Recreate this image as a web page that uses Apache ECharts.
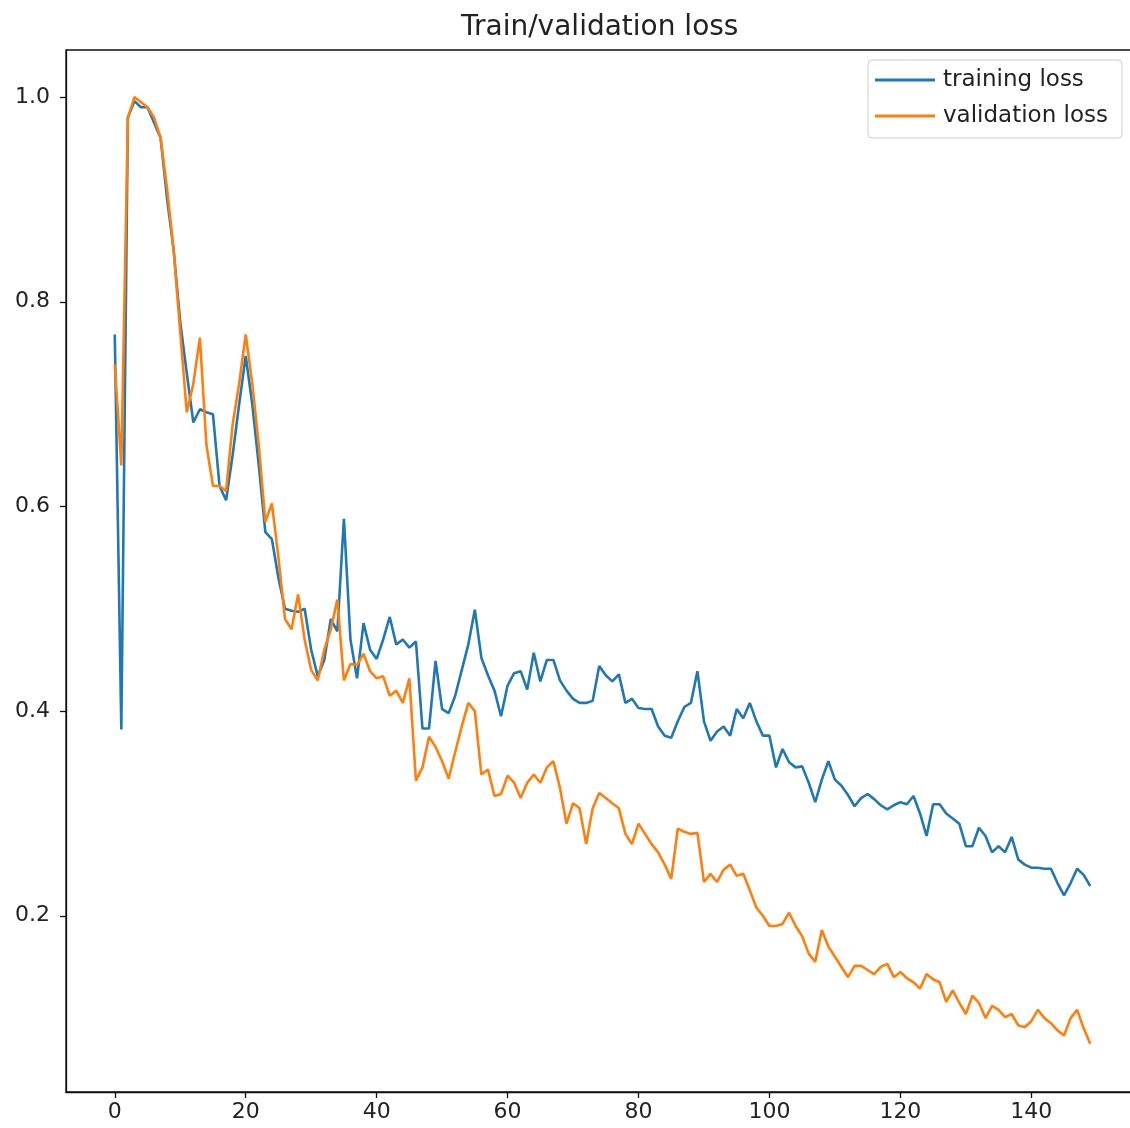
<!DOCTYPE html>
<html>
<head>
<meta charset="utf-8">
<script src="https://cdn.jsdelivr.net/npm/echarts@6/dist/echarts.min.js"></script>
<style>
  html, body { margin: 0; padding: 0; background: #fff; }
  #chart { width: 1130px; height: 1128px; }
</style>
</head>
<body>
<div id="chart"></div>
<script>
// values, one per epoch (0..149)
var trainingLoss = [
  0.768, 0.382, 0.98, 0.996, 0.99, 0.99, 0.975, 0.96, 0.90, 0.85,
  0.78, 0.73, 0.682, 0.695, 0.692, 0.69, 0.62, 0.606, 0.65, 0.70,
  0.747, 0.70, 0.64, 0.575, 0.568, 0.53, 0.50, 0.498, 0.497, 0.50,
  0.46, 0.434, 0.45, 0.49, 0.478, 0.588, 0.47, 0.432, 0.486, 0.46,
  0.451, 0.47, 0.492, 0.465, 0.47, 0.462, 0.468, 0.383, 0.383, 0.449,
  0.402, 0.398, 0.415, 0.44, 0.465, 0.499, 0.452, 0.435, 0.42, 0.395,
  0.425, 0.437, 0.439, 0.421, 0.457, 0.429, 0.45, 0.45, 0.43, 0.42,
  0.412, 0.408, 0.408, 0.41, 0.444, 0.435, 0.429, 0.436, 0.408, 0.412,
  0.403, 0.402, 0.402, 0.385, 0.376, 0.374, 0.39, 0.404, 0.408, 0.439,
  0.39, 0.371, 0.38, 0.385, 0.376, 0.402, 0.393, 0.408, 0.39, 0.376,
  0.376, 0.345, 0.363, 0.35, 0.345, 0.346, 0.33, 0.311, 0.333, 0.351,
  0.333, 0.327, 0.318, 0.307, 0.315, 0.319, 0.314, 0.308, 0.304, 0.308,
  0.311, 0.309, 0.317, 0.30, 0.278, 0.309, 0.309, 0.30, 0.295, 0.29,
  0.268, 0.268, 0.286, 0.278, 0.262, 0.268, 0.262, 0.277, 0.255, 0.25,
  0.247, 0.247, 0.246, 0.246, 0.232, 0.22, 0.232, 0.246, 0.24, 0.229
];
var validationLoss = [
  0.739, 0.64, 0.98, 1.0, 0.995, 0.99, 0.98, 0.96, 0.91, 0.85,
  0.77, 0.692, 0.72, 0.765, 0.66, 0.62, 0.62, 0.615, 0.68, 0.72,
  0.768, 0.72, 0.66, 0.585, 0.603, 0.55, 0.49, 0.48, 0.514, 0.47,
  0.44, 0.43, 0.46, 0.48, 0.509, 0.43, 0.446, 0.445, 0.456, 0.439,
  0.432, 0.434, 0.415, 0.42, 0.408, 0.432, 0.332, 0.345, 0.375, 0.365,
  0.351, 0.334, 0.36, 0.385, 0.408, 0.40, 0.338, 0.343, 0.317, 0.319,
  0.337, 0.33, 0.315, 0.33, 0.338, 0.33, 0.345, 0.351, 0.325, 0.29,
  0.31, 0.305, 0.27, 0.305, 0.32, 0.315, 0.31, 0.305, 0.28, 0.27,
  0.29, 0.28, 0.27, 0.262, 0.25, 0.236, 0.285, 0.282, 0.28, 0.281,
  0.233, 0.241, 0.233, 0.245, 0.25, 0.239, 0.241, 0.225, 0.208, 0.2,
  0.19, 0.19, 0.192, 0.203, 0.19, 0.18, 0.163, 0.155, 0.186, 0.17,
  0.16, 0.15, 0.14, 0.151, 0.151, 0.147, 0.143, 0.15, 0.153, 0.14,
  0.145, 0.139, 0.135, 0.129, 0.143, 0.138, 0.135, 0.116, 0.127, 0.115,
  0.104, 0.122, 0.115, 0.10, 0.112, 0.108, 0.101, 0.104, 0.093, 0.091,
  0.097, 0.108, 0.10, 0.095, 0.088, 0.083, 0.10, 0.108, 0.09, 0.075
];
var xTicks = [0, 20, 40, 60, 80, 100, 120, 140];
var yTicks = [0.2, 0.4, 0.6, 0.8, 1.0];
var seriesNames = ['training loss', 'validation loss'];

function pairs(vals) {
  var out = [];
  for (var i = 0; i < vals.length; i++) out.push([i, vals[i]]);
  return out;
}

var font = 'DejaVu Sans';
var chart = echarts.init(document.getElementById('chart'));
chart.setOption({
  animation: false,
  backgroundColor: '#fff',
  title: {
    text: 'Train/validation loss',
    left: 456,
    top: 9,
    textStyle: { fontFamily: font, fontSize: 28, fontWeight: 'normal', color: '#222' }
  },
  legend: {
    data: seriesNames,
    orient: 'vertical',
    left: 868,
    top: 60,
    padding: [7, 14, 9, 7],
    icon: 'rect',
    itemWidth: 60,
    itemHeight: 3,
    itemGap: 10,
    borderColor: '#ccc',
    borderWidth: 1,
    borderRadius: 4,
    backgroundColor: 'rgba(255,255,255,0.8)',
    textStyle: { fontFamily: font, fontSize: 23, lineHeight: 26, color: '#222', padding: [0, 0, 0, 3] }
  },
  grid: {
    left: 66, top: 50, width: 1073, height: 1042,
    outerBoundsMode: 'none',
    containLabel: false,
    show: true, borderColor: '#111', borderWidth: 1.3
  },
  xAxis: {
    type: 'value',
    min: -7.45,
    max: 156.45,
    splitLine: { show: false },
    axisLine: { show: true, onZero: false, lineStyle: { color: '#111', width: 1.3 } },
    axisTick: { show: true, customValues: xTicks, length: 6, lineStyle: { color: '#111', width: 1.3 } },
    axisLabel: { customValues: xTicks, margin: 9, fontFamily: font, fontSize: 22, color: '#222' }
  },
  yAxis: {
    type: 'value',
    min: 0.0278,
    max: 1.046,
    splitLine: { show: false },
    axisLine: { show: true, onZero: false, lineStyle: { color: '#111', width: 1.3 } },
    axisTick: { show: true, customValues: yTicks, length: 6, lineStyle: { color: '#111', width: 1.3 } },
    axisLabel: {
      customValues: yTicks, margin: 16, fontFamily: font, fontSize: 22, color: '#222',
      formatter: function (v) { return v.toFixed(1); }
    }
  },
  series: [
    {
      name: seriesNames[0],
      type: 'line',
      data: pairs(trainingLoss),
      showSymbol: false,
      color: '#1f77b4',
      lineStyle: { width: 2.6, color: '#1f77b4' }
    },
    {
      name: seriesNames[1],
      type: 'line',
      data: pairs(validationLoss),
      showSymbol: false,
      color: '#ff7f0e',
      lineStyle: { width: 2.6, color: '#ff7f0e' }
    }
  ]
});
</script>
</body>
</html>
